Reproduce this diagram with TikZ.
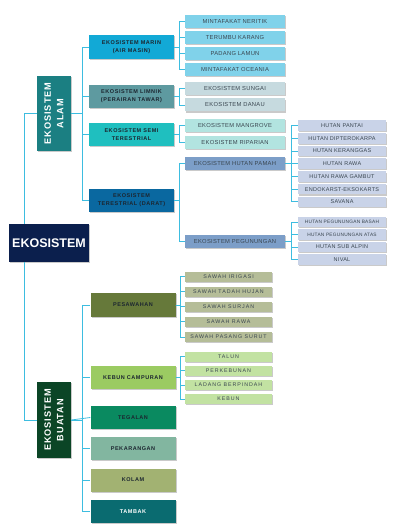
\documentclass[tikz,border=0pt]{standalone}
\usepackage{fontspec}
\setmainfont{Liberation Sans}
\newfontfamily\grpfont[LetterSpace=10]{Liberation Sans}
\newfontfamily\leaffont[LetterSpace=5]{Liberation Sans}
\newfontfamily\wideleaffont[LetterSpace=18]{Liberation Sans}
\usetikzlibrary{positioning,shadows}
\definecolor{linkblue}{HTML}{3DBDE0}
\definecolor{navy}{HTML}{0B1F4D}
\definecolor{alamteal}{HTML}{1B7F82}
\definecolor{buatangreen}{HTML}{0B4526}
\definecolor{txtdark}{HTML}{1C2630}
\definecolor{txtleaf}{HTML}{3A4650}
\definecolor{marinfill}{HTML}{12A9D6}
\definecolor{limnikfill}{HTML}{5E9AA0}
\definecolor{semifill}{HTML}{1FBFBF}
\definecolor{daratfill}{HTML}{0A68A0}
\definecolor{marinleaf}{HTML}{80D2EA}
\definecolor{limnikleaf}{HTML}{C6DADF}
\definecolor{semileaf}{HTML}{B2E4E0}
\definecolor{daratleaf}{HTML}{7C9EC8}
\definecolor{hutanleaf}{HTML}{C9D3E8}
\definecolor{sawahfill}{HTML}{66793A}
\definecolor{sawahleaf}{HTML}{B5BD98}
\definecolor{kebunfill}{HTML}{9BCB62}
\definecolor{kebunleaf}{HTML}{C2E2A2}
\definecolor{tegalfill}{HTML}{0A8A60}
\definecolor{pekarfill}{HTML}{82B6A0}
\definecolor{kolamfill}{HTML}{A2B272}
\definecolor{tambakfill}{HTML}{0A6B70}

\begin{document}
\begin{tikzpicture}[
  x=1pt, y=-1pt,
  link/.style={draw=linkblue,line width=0.8pt},
  shade/.style={drop shadow={shadow xshift=1.2pt,shadow yshift=-1.2pt,opacity=.35,fill=black!60}},
  rootbox/.style={shade,fill=navy,text=white,minimum width=80pt,minimum height=38pt,inner sep=0pt,font=\fontsize{12.5}{14}\selectfont\bfseries},
  sidebox/.style={shade,text=white,minimum width=75pt,minimum height=34pt,inner sep=0pt,align=center,rotate=90,font=\grpfont\fontsize{9.2}{12.5}\selectfont\bfseries},
  grpbox/.style={shade,text=txtdark,minimum width=85pt,minimum height=23pt,inner sep=0pt,align=center,font=\grpfont\fontsize{5.5}{8}\selectfont\bfseries},
  leaf/.style={shade,text=txtleaf,minimum width=100pt,minimum height=13pt,inner sep=0pt,font=\leaffont\fontsize{5.8}{6}\selectfont},
  twig/.style={shade,text=txtleaf,minimum width=88pt,minimum height=10.5pt,inner sep=0pt,font=\leaffont\fontsize{5.5}{6}\selectfont},
  tinytwig/.style={twig,font=\leaffont\fontsize{4.8}{5}\selectfont},
  farmleaf/.style={shade,text=txtleaf,minimum width=87pt,minimum height=10pt,inner sep=0pt,font=\wideleaffont\fontsize{5.3}{6}\selectfont}
]
\useasboundingbox (0,0) rectangle (400,532);

% root and the two main branches
\node[rootbox] (root) at (49,243) {EKOSISTEM};
\node[sidebox,fill=alamteal] (alam) at (54,113.5) {EKOSISTEM\\ALAM};
\node[sidebox,fill=buatangreen,minimum width=76pt] (buatan) at (54,420) {EKOSISTEM\\BUATAN};

% ekosistem alam
\node[grpbox,fill=marinfill,minimum height=24pt] (marin) at (131.5,47) {EKOSISTEM MARIN\\(AIR MASIN)};
\node[grpbox,fill=limnikfill] (limnik) at (131.5,96.5) {EKOSISTEM LIMNIK\\(PERAIRAN TAWAR)};
\node[grpbox,fill=semifill] (semi) at (131.5,134.5) {EKOSISTEM SEMI\\TERESTRIAL};
\node[grpbox,fill=daratfill] (darat) at (131.5,200.5) {EKOSISTEM\\TERESTRIAL (DARAT)};

\node[leaf,fill=marinleaf] (neritik) at (235,21.7) {MINTAFAKAT NERITIK};
\node[leaf,fill=marinleaf] (karang) at (235,37.6) {TERUMBU KARANG};
\node[leaf,fill=marinleaf] (lamun) at (235,53.5) {PADANG LAMUN};
\node[leaf,fill=marinleaf] (oceania) at (235,69.5) {MINTAFAKAT OCEANIA};
\node[leaf,fill=limnikleaf] (sungai) at (235,88.5) {EKOSISTEM SUNGAI};
\node[leaf,fill=limnikleaf] (danau) at (235,105) {EKOSISTEM DANAU};
\node[leaf,fill=semileaf] (mangrove) at (235,125.5) {EKOSISTEM MANGROVE};
\node[leaf,fill=semileaf] (riparian) at (235,142.5) {EKOSISTEM RIPARIAN};
\node[leaf,fill=daratleaf] (pamah) at (235,163.5) {EKOSISTEM HUTAN PAMAH};
\node[leaf,fill=daratleaf] (gunung) at (235,241.5) {EKOSISTEM PEGUNUNGAN};

\node[twig,fill=hutanleaf] (pantai) at (342,125.7) {HUTAN PANTAI};
\node[twig,fill=hutanleaf] (dipter) at (342,138.3) {HUTAN DIPTEROKARPA};
\node[twig,fill=hutanleaf] (kerang) at (342,150.9) {HUTAN KERANGGAS};
\node[twig,fill=hutanleaf] (rawa) at (342,163.5) {HUTAN RAWA};
\node[twig,fill=hutanleaf] (gambut) at (342,176.6) {HUTAN RAWA GAMBUT};
\node[twig,fill=hutanleaf] (karst) at (342,189.2) {ENDOKARST-EKSOKARTS};
\node[twig,fill=hutanleaf] (savana) at (342,201.8) {SAVANA};
\node[tinytwig,fill=hutanleaf] (basah) at (342,222) {HUTAN PEGUNUNGAN BASAH};
\node[tinytwig,fill=hutanleaf] (atas) at (342,234.5) {HUTAN PEGUNUNGAN ATAS};
\node[twig,fill=hutanleaf] (alpin) at (342,247) {HUTAN SUB ALPIN};
\node[twig,fill=hutanleaf] (nival) at (342,259.5) {NIVAL};

% ekosistem buatan
\node[grpbox,fill=sawahfill,minimum height=24pt] (sawah) at (133,305) {PESAWAHAN};
\node[grpbox,fill=kebunfill] (campur) at (133,377.5) {KEBUN CAMPURAN};
\node[grpbox,fill=tegalfill] (tegalan) at (133,417.5) {TEGALAN};
\node[grpbox,fill=pekarfill] (pekar) at (133,448.5) {PEKARANGAN};
\node[grpbox,fill=kolamfill] (kolam) at (133,480) {KOLAM};
\node[grpbox,fill=tambakfill,text=white] (tambak) at (133,511.5) {TAMBAK};

\node[farmleaf,fill=sawahleaf] (irigasi) at (228.5,276.5) {SAWAH IRIGASI};
\node[farmleaf,fill=sawahleaf] (tadah) at (228.5,291.6) {SAWAH TADAH HUJAN};
\node[farmleaf,fill=sawahleaf] (surjan) at (228.5,306.7) {SAWAH SURJAN};
\node[farmleaf,fill=sawahleaf] (swrawa) at (228.5,321.8) {SAWAH RAWA};
\node[farmleaf,fill=sawahleaf] (pasang) at (228.5,337) {SAWAH PASANG SURUT};
\node[farmleaf,fill=kebunleaf] (talun) at (228.5,356.5) {TALUN};
\node[farmleaf,fill=kebunleaf] (perkeb) at (228.5,370.7) {PERKEBUNAN};
\node[farmleaf,fill=kebunleaf] (ladang) at (228.5,384.9) {LADANG BERPINDAH};
\node[farmleaf,fill=kebunleaf] (kebun) at (228.5,399) {KEBUN};

% connectors
\coordinate (trunk) at (24,0);
\draw[link] (root.north -| trunk) |- (alam.north);
\draw[link] (root.south -| trunk) |- (buatan.north);

\draw[link] (alam.south) -- ++(11,0) |- (marin.west);
\draw[link] (alam.south) -- ++(11,0) |- (limnik.west);
\draw[link] (alam.south) -- ++(11,0) |- (semi.west);
\draw[link] (alam.south) -- ++(11,0) |- (darat.west);

\draw[link] (marin.east) -- ++(5,0) |- (neritik.west);
\draw[link] (marin.east) -- ++(5,0) |- (karang.west);
\draw[link] (marin.east) -- ++(5,0) |- (lamun.west);
\draw[link] (marin.east) -- ++(5,0) |- (oceania.west);
\draw[link] (limnik.east) -- ++(5,0) |- (sungai.west);
\draw[link] (limnik.east) -- ++(5,0) |- (danau.west);
\draw[link] (semi.east) -- ++(5,0) |- (mangrove.west);
\draw[link] (semi.east) -- ++(5,0) |- (riparian.west);
\draw[link] (darat.east) -- ++(5,0) |- (pamah.west);
\draw[link] (darat.east) -- ++(5,0) |- (gunung.west);

\draw[link] (pamah.east) -- ++(6,0) |- (pantai.west);
\draw[link] (pamah.east) -- ++(6,0) |- (dipter.west);
\draw[link] (pamah.east) -- ++(6,0) |- (kerang.west);
\draw[link] (pamah.east) -- ++(6,0) |- (rawa.west);
\draw[link] (pamah.east) -- ++(6,0) |- (gambut.west);
\draw[link] (pamah.east) -- ++(6,0) |- (karst.west);
\draw[link] (pamah.east) -- ++(6,0) |- (savana.west);
\draw[link] (gunung.east) -- ++(6,0) |- (basah.west);
\draw[link] (gunung.east) -- ++(6,0) |- (atas.west);
\draw[link] (gunung.east) -- ++(6,0) |- (alpin.west);
\draw[link] (gunung.east) -- ++(6,0) |- (nival.west);

\draw[link] (buatan.south) -- ++(11,0) |- (sawah.west);
\draw[link] (buatan.south) -- ++(11,0) |- (campur.west);
\draw[link] (buatan.south) -- (tegalan.west);
\draw[link] (buatan.south) -- ++(11,0) |- (pekar.west);
\draw[link] (buatan.south) -- ++(11,0) |- (kolam.west);
\draw[link] (buatan.south) -- ++(11,0) |- (tambak.west);

\draw[link] (sawah.east) -- ++(5,0) |- (irigasi.west);
\draw[link] (sawah.east) -- ++(5,0) |- (tadah.west);
\draw[link] (sawah.east) -- ++(5,0) |- (surjan.west);
\draw[link] (sawah.east) -- ++(5,0) |- (swrawa.west);
\draw[link] (sawah.east) -- ++(5,0) |- (pasang.west);
\draw[link] (campur.east) -- ++(5,0) |- (talun.west);
\draw[link] (campur.east) -- ++(5,0) |- (perkeb.west);
\draw[link] (campur.east) -- ++(5,0) |- (ladang.west);
\draw[link] (campur.east) -- ++(5,0) |- (kebun.west);
\end{tikzpicture}
\end{document}
